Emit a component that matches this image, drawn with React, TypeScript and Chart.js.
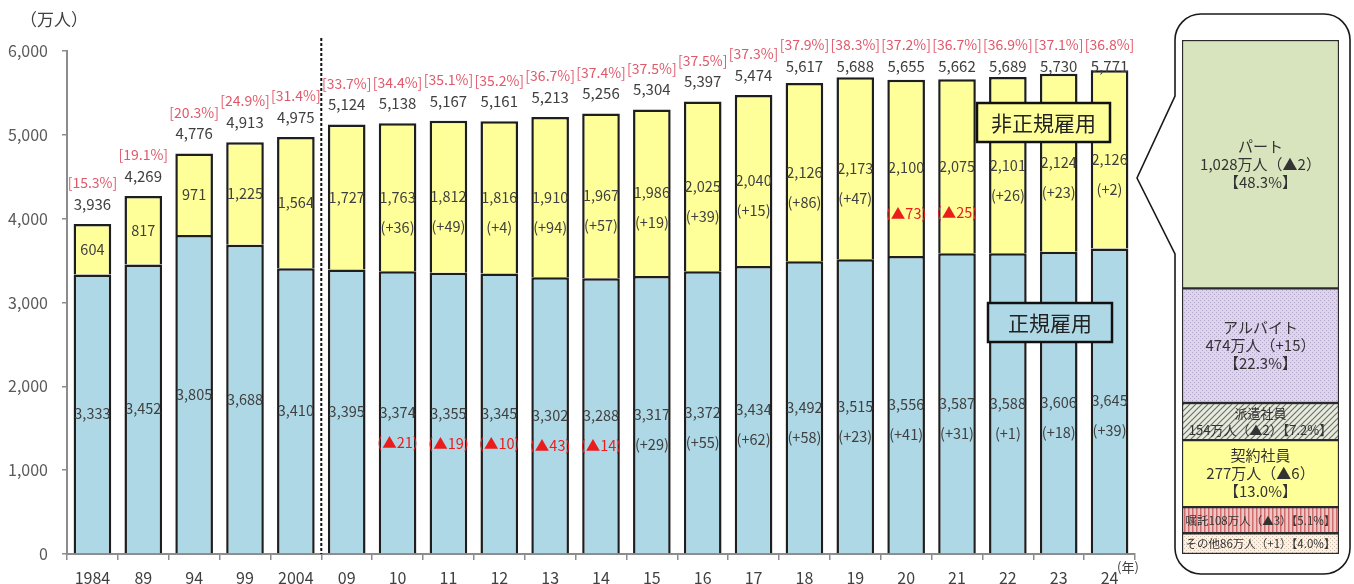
import React, { useEffect, useRef } from "react";
import { Chart, registerables } from "chart.js";

Chart.register(...registerables);

// ---- main chart data ----
const years = ["1984", "89", "94", "99", "2004", "09", "10", "11", "12", "13", "14", "15", "16", "17", "18", "19", "20", "21", "22", "23", "24"];
const regularEmployees = [3333, 3452, 3805, 3688, 3410, 3395, 3374, 3355, 3345, 3302, 3288, 3317, 3372, 3434, 3492, 3515, 3556, 3587, 3588, 3606, 3645];
const nonRegularEmployees = [604, 817, 971, 1225, 1564, 1727, 1763, 1812, 1816, 1910, 1967, 1986, 2025, 2040, 2126, 2173, 2100, 2075, 2101, 2124, 2126];
const totalEmployees = [3936, 4269, 4776, 4913, 4975, 5124, 5138, 5167, 5161, 5213, 5256, 5304, 5397, 5474, 5617, 5688, 5655, 5662, 5689, 5730, 5771];
const nonRegularShare = ["15.3", "19.1", "20.3", "24.9", "31.4", "33.7", "34.4", "35.1", "35.2", "36.7", "37.4", "37.5", "37.5", "37.3", "37.9", "38.3", "37.2", "36.7", "36.9", "37.1", "36.8"];
const regularChange: (number | null)[] = [null, null, null, null, null, null, -21, -19, -10, -43, -14, 29, 55, 62, 58, 23, 41, 31, 1, 18, 39];
const nonRegularChange: (number | null)[] = [null, null, null, null, null, null, 36, 49, 4, 94, 57, 19, 39, 15, 86, 47, -73, -25, 26, 23, 2];
const yMax = 6000;
const yStep = 1000;

// ---- breakdown (2024 non-regular) data, bottom to top ----
const breakdownNames = ["その他", "嘱託", "契約社員", "派遣社員", "アルバイト", "パート"];
const breakdownValues = [86, 108, 277, 154, 474, 1028];
const breakdownChange = [1, -3, -6, -2, 15, -2];
const breakdownShare = ["4.0", "5.1", "13.0", "7.2", "22.3", "48.3"];

const FONT = "'Noto Sans CJK JP', 'Noto Sans', sans-serif";
const fmt = (n: number) => n.toLocaleString("en-US");
const chg = (n: number) => (n < 0 ? `(▲${-n})` : `(+${n})`);
const chgFull = (n: number) => (n < 0 ? `▲${-n}` : `+${n}`);

function makePattern(kind: string): CanvasPattern | string {
  const c = document.createElement("canvas");
  const g = c.getContext("2d")!;
  if (kind === "dots-lavender" || kind === "dots-peach") {
    c.width = 4; c.height = 4;
    g.fillStyle = kind === "dots-lavender" ? "#ddd5ea" : "#fcf1e6";
    g.fillRect(0, 0, 4, 4);
    g.fillStyle = kind === "dots-lavender" ? "#b3a4c9" : "#cdbba8";
    g.fillRect(0, 0, 1, 1);
    g.fillRect(2, 2, 1, 1);
  } else if (kind === "hatch") {
    c.width = 6; c.height = 6;
    g.fillStyle = "#e6ebdc";
    g.fillRect(0, 0, 6, 6);
    g.strokeStyle = "#6f6f6f";
    g.lineWidth = 1.2;
    g.beginPath();
    g.moveTo(0, 6); g.lineTo(6, 0);
    g.moveTo(-1, 1); g.lineTo(1, -1);
    g.moveTo(5, 7); g.lineTo(7, 5);
    g.stroke();
  } else if (kind === "stripe") {
    c.width = 4; c.height = 4;
    g.fillStyle = "#edc6c5";
    g.fillRect(0, 0, 4, 4);
    g.fillStyle = "#cf6d6d";
    g.fillRect(0, 0, 1.5, 4);
  }
  return g.createPattern(c, "repeat") || "#ccc";
}

const mainLabelsPlugin = {
  id: "mainLabels",
  afterDatasetsDraw(chart: any) {
    const ctx = chart.ctx;
    const regMeta = chart.getDatasetMeta(0);
    const nonMeta = chart.getDatasetMeta(1);
    const area = chart.chartArea;
    ctx.save();
    ctx.textAlign = "center";
    ctx.textBaseline = "middle";
    years.forEach((_, i) => {
      const r = regMeta.data[i];
      const n = nonMeta.data[i];
      const rc = (r.y + r.base) / 2;
      const nc = (n.y + n.base) / 2;
      ctx.font = `14.5px ${FONT}`;
      ctx.fillStyle = "#404040";
      ctx.fillText(fmt(regularEmployees[i]), r.x, rc);
      ctx.fillText(fmt(nonRegularEmployees[i]), n.x, nc);
      const rcv = regularChange[i];
      if (rcv !== null) {
        ctx.fillStyle = rcv < 0 ? "#ea1c1c" : "#404040";
        ctx.fillText(chg(rcv), r.x, rc + 30);
      }
      const ncv = nonRegularChange[i];
      if (ncv !== null) {
        ctx.fillStyle = ncv < 0 ? "#ea1c1c" : "#404040";
        ctx.fillText(chg(ncv), n.x, nc + (ncv < 0 ? 46 : 30));
      }
      const ty = Math.max(n.y - 20, 66);
      ctx.font = `15px ${FONT}`;
      ctx.fillStyle = "#404040";
      ctx.fillText(fmt(totalEmployees[i]), n.x, ty);
      ctx.font = `14px ${FONT}`;
      ctx.fillStyle = "#e0586a";
      ctx.fillText(`[${nonRegularShare[i]}%]`, n.x, ty - 21);
    });

    // dashed separator between 2004 and 09
    const xSep = (regMeta.data[4].x + regMeta.data[5].x) / 2;
    ctx.strokeStyle = "#111";
    ctx.lineWidth = 2;
    ctx.setLineDash([3, 2]);
    ctx.beginPath();
    ctx.moveTo(xSep, 38);
    ctx.lineTo(xSep, area.bottom);
    ctx.stroke();
    ctx.setLineDash([]);

    // series name boxes
    const box = (x: number, y: number, w: number, h: number, fill: string, text: string) => {
      ctx.fillStyle = fill;
      ctx.fillRect(x, y, w, h);
      ctx.strokeStyle = "#111";
      ctx.lineWidth = 2.5;
      ctx.strokeRect(x, y, w, h);
      ctx.fillStyle = "#222";
      ctx.font = `21px ${FONT}`;
      ctx.fillText(text, x + w / 2, y + h / 2 + 1);
    };
    box(977, 103, 133, 39, "#ffff99", "非正規雇用");
    box(988, 303, 124, 39, "#aed8e6", "正規雇用");
    ctx.restore();
  },
  afterDraw(chart: any) {
    const ctx = chart.ctx;
    ctx.save();
    ctx.fillStyle = "#404040";
    ctx.textBaseline = "middle";
    ctx.textAlign = "left";
    ctx.font = `17px ${FONT}`;
    ctx.fillText("（万人）", 20, 20);
    ctx.font = `13px ${FONT}`;
    ctx.fillText("(年)", 1117, 567);
    ctx.restore();
  },
};

const bubblePlugin = {
  id: "bubble",
  beforeDraw(chart: any) {
    const ctx = chart.ctx;
    const L = 55, R = 230, T = 14, B = 574, r = 26;
    ctx.save();
    ctx.beginPath();
    ctx.moveTo(L + r, T);
    ctx.lineTo(R - r, T);
    ctx.arcTo(R, T, R, T + r, r);
    ctx.lineTo(R, B - r);
    ctx.arcTo(R, B, R - r, B, r);
    ctx.lineTo(L + r, B);
    ctx.arcTo(L, B, L, B - r, r);
    ctx.lineTo(L, 254);
    ctx.lineTo(17, 178);
    ctx.lineTo(L, 96);
    ctx.lineTo(L, T + r);
    ctx.arcTo(L, T, L + r, T, r);
    ctx.closePath();
    ctx.fillStyle = "#fff";
    ctx.fill();
    ctx.strokeStyle = "#1a1a1a";
    ctx.lineWidth = 1.6;
    ctx.stroke();
    ctx.restore();
  },
  afterDatasetsDraw(chart: any) {
    const ctx = chart.ctx;
    ctx.save();
    ctx.textAlign = "center";
    ctx.textBaseline = "middle";
    breakdownNames.forEach((name, k) => {
      const el = chart.getDatasetMeta(k).data[0];
      const h = el.base - el.y;
      const cy = (el.y + el.base) / 2;
      const amount = `${fmt(breakdownValues[k])}万人（${chgFull(breakdownChange[k])}）`;
      const share = `【${breakdownShare[k]}%】`;
      let lines: string[];
      let size: number;
      let gap: number;
      if (h > 55) {
        lines = [name, amount, share]; size = 15; gap = 18;
      } else if (h > 30) {
        lines = [name, amount + share]; size = 13; gap = 17;
      } else {
        lines = [name + amount + share]; size = 11.5; gap = 0;
      }
      ctx.font = `${size}px ${FONT}`;
      ctx.fillStyle = "#333";
      const start = cy - (gap * (lines.length - 1)) / 2;
      lines.forEach((t, j) => ctx.fillText(t, el.x, start + j * gap));
    });
    ctx.restore();
  },
};

export default function App() {
  const mainRef = useRef<HTMLCanvasElement>(null);
  const panelRef = useRef<HTMLCanvasElement>(null);

  useEffect(() => {
    const main = new Chart(mainRef.current!, {
      type: "bar",
      data: {
        labels: years,
        datasets: [
          {
            label: "正規雇用",
            data: regularEmployees,
            backgroundColor: "#aed8e6",
            borderColor: "#1e1e1e",
            borderWidth: 2.5,
            barPercentage: 0.74,
            categoryPercentage: 1,
          },
          {
            label: "非正規雇用",
            data: nonRegularEmployees,
            backgroundColor: "#ffff99",
            borderColor: "#1e1e1e",
            borderWidth: 2.5,
            barPercentage: 0.74,
            categoryPercentage: 1,
          },
        ],
      },
      options: {
        animation: false,
        responsive: true,
        maintainAspectRatio: false,
        layout: { padding: { left: 0, top: 51, right: 219, bottom: 0 } },
        plugins: { legend: { display: false }, tooltip: { enabled: false } },
        scales: {
          x: {
            stacked: true,
            grid: { display: true, drawOnChartArea: false, drawTicks: true, tickLength: 6, color: "#8c8c8c", lineWidth: 1.5, offset: true },
            border: { color: "#8c8c8c", width: 2 },
            ticks: { font: { size: 16, family: FONT }, color: "#404040", padding: 8, maxRotation: 0, autoSkip: false },
            afterFit: (s: any) => { s.height = 30; },
          },
          y: {
            stacked: true,
            min: 0,
            max: yMax,
            grid: { display: true, drawOnChartArea: false, drawTicks: true, tickLength: 5, color: "#8c8c8c", lineWidth: 1.5 },
            border: { color: "#8c8c8c", width: 2 },
            ticks: { stepSize: yStep, font: { size: 16, family: FONT }, color: "#595959", padding: 14, callback: (v: any) => fmt(Number(v)) },
            afterFit: (s: any) => { s.width = 67; },
          },
        },
      },
      plugins: [mainLabelsPlugin],
    });

    const fills = [
      makePattern("dots-peach"),
      makePattern("stripe"),
      "#ffff99",
      makePattern("hatch"),
      makePattern("dots-lavender"),
      "#d7e4bd",
    ];
    const panel = new Chart(panelRef.current!, {
      type: "bar",
      data: {
        labels: ["2024"],
        datasets: breakdownNames.map((name, k) => ({
          label: name,
          data: [breakdownValues[k]],
          backgroundColor: fills[k] as any,
          borderColor: "#2a2a2a",
          borderWidth: 1.5,
          borderSkipped: false,
          barPercentage: 1,
          categoryPercentage: 1,
        })),
      },
      options: {
        animation: false,
        responsive: true,
        maintainAspectRatio: false,
        layout: { padding: { left: 62, right: 15, top: 40, bottom: 30 } },
        plugins: { legend: { display: false }, tooltip: { enabled: false } },
        scales: {
          x: { stacked: true, display: false },
          y: { stacked: true, display: false, min: 0, max: breakdownValues.reduce((a, b) => a + b, 0) },
        },
      },
      plugins: [bubblePlugin],
    });

    return () => {
      main.destroy();
      panel.destroy();
    };
  }, []);

  return (
    <div style={{ position: "fixed", left: 0, top: 0, width: 1354, height: 584, background: "#fff", overflow: "hidden" }}>
      <div style={{ position: "absolute", left: 0, top: 0, width: 1354, height: 584 }}>
        <canvas ref={mainRef} />
      </div>
      <div style={{ position: "absolute", left: 1120, top: 0, width: 234, height: 584 }}>
        <canvas ref={panelRef} />
      </div>
    </div>
  );
}
